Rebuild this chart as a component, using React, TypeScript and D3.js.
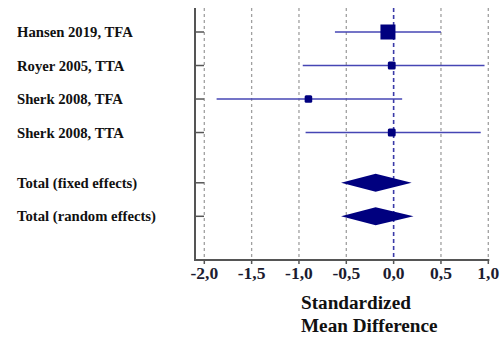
import React from "react";
import * as d3 from "d3";

const studies = ["Hansen 2019, TFA", "Royer 2005, TTA", "Sherk 2008, TFA", "Sherk 2008, TTA"];
const smd = [-0.06, -0.02, -0.9, -0.02];
const lower = [-0.62, -0.96, -1.87, -0.93];
const upper = [0.5, 0.96, 0.09, 0.92];
const weights = [55, 15, 14, 15];

const totals = ["Total (fixed effects)", "Total (random effects)"];
const totalSmd = [-0.19, -0.19];
const totalLower = [-0.555, -0.555];
const totalUpper = [0.19, 0.21];

const xTicks = [-2, -1.5, -1, -0.5, 0, 0.5, 1];

const W = 504;
const H = 338;

export default function App() {
  const x = d3.scaleLinear().domain([-2, 1]).range([204.3, 488.3]);
  const y = d3.scaleLinear().domain([0, 5.5]).range([32, 216.3]);
  const size = d3.scaleSqrt().domain([0, 55]).range([0, 15]);
  const fmt = (v: number) => d3.format(".1f")(v).replace(".", ",").replace("−", "-");

  const axisX = 195;
  const top = 8;
  const bottom = 260;
  const serif = "Liberation Serif, Times New Roman, DejaVu Serif, serif";
  const lineCol = "#4646b4";
  const mark = "#00007f";

  const studyRows = studies.map((s, i) => ({ label: s, y: y(i), smd: smd[i], lo: lower[i], hi: upper[i], w: weights[i] }));
  const totalRows = totals.map((s, i) => ({ label: s, y: y(4.5 + i), smd: totalSmd[i], lo: totalLower[i], hi: totalUpper[i] }));

  return (
    <svg width={W} height={H} style={{ position: "absolute", left: 0, top: 0, background: "#fff" }}>
      {/* gridlines */}
      {xTicks.map((t) =>
        t === 0 ? null : (
          <line key={t} x1={x(t)} x2={x(t)} y1={top} y2={bottom} stroke="#a0a0a0" strokeWidth={1.3} strokeDasharray="3,3" />
        )
      )}
      <line x1={x(0)} x2={x(0)} y1={top} y2={bottom} stroke="#3a3aa8" strokeWidth={1.6} strokeDasharray="4,3" />

      {/* axes */}
      <line x1={axisX} x2={axisX} y1={top} y2={bottom} stroke="#555" strokeWidth={2} />
      <line x1={axisX - 1} x2={x(1) + 1} y1={bottom} y2={bottom} stroke="#555" strokeWidth={2} />
      {xTicks.map((t) => (
        <line key={"t" + t} x1={x(t)} x2={x(t)} y1={bottom} y2={bottom + 4} stroke="#555" strokeWidth={1.5} />
      ))}
      {[...studyRows, ...totalRows].map((r, i) => (
        <line key={"yt" + i} x1={axisX} x2={axisX + 9} y1={r.y} y2={r.y} stroke="#555" strokeWidth={1.5} />
      ))}

      {/* tick labels */}
      {xTicks.map((t) => (
        <text key={"l" + t} x={x(t)} y={bottom + 19} textAnchor="middle" fontFamily={serif} fontWeight="bold" fontSize={17.5} fill="#1c1c30">
          {fmt(t)}
        </text>
      ))}

      {/* study rows */}
      {studyRows.map((r, i) => {
        const s = size(r.w);
        return (
          <g key={"s" + i}>
            <line x1={x(r.lo)} x2={x(r.hi)} y1={r.y} y2={r.y} stroke={lineCol} strokeWidth={1.5} />
            <rect x={x(r.smd) - s / 2} y={r.y - s / 2} width={s} height={s} fill={mark} rx={s < 10 ? 1.5 : 0} />
            <text x={17} y={r.y} dy="0.35em" fontFamily={serif} fontWeight="bold" fontSize={14.7} fill="#111">
              {r.label}
            </text>
          </g>
        );
      })}

      {/* totals */}
      {totalRows.map((r, i) => {
        const h = 9;
        const d = `M${x(r.lo)},${r.y} L${x(r.smd)},${r.y - h} L${x(r.hi)},${r.y} L${x(r.smd)},${r.y + h} Z`;
        return (
          <g key={"tot" + i}>
            <path d={d} fill={mark} />
            <text x={17} y={r.y} dy="0.35em" fontFamily={serif} fontWeight="bold" fontSize={14.7} fill="#111">
              {r.label}
            </text>
          </g>
        );
      })}

      {/* axis title */}
      <text x={301} y={309} fontFamily={serif} fontWeight="bold" fontSize={19.2} fill="#111">
        Standardized
      </text>
      <text x={301} y={332} fontFamily={serif} fontWeight="bold" fontSize={19.2} fill="#111">
        Mean Difference
      </text>
    </svg>
  );
}
